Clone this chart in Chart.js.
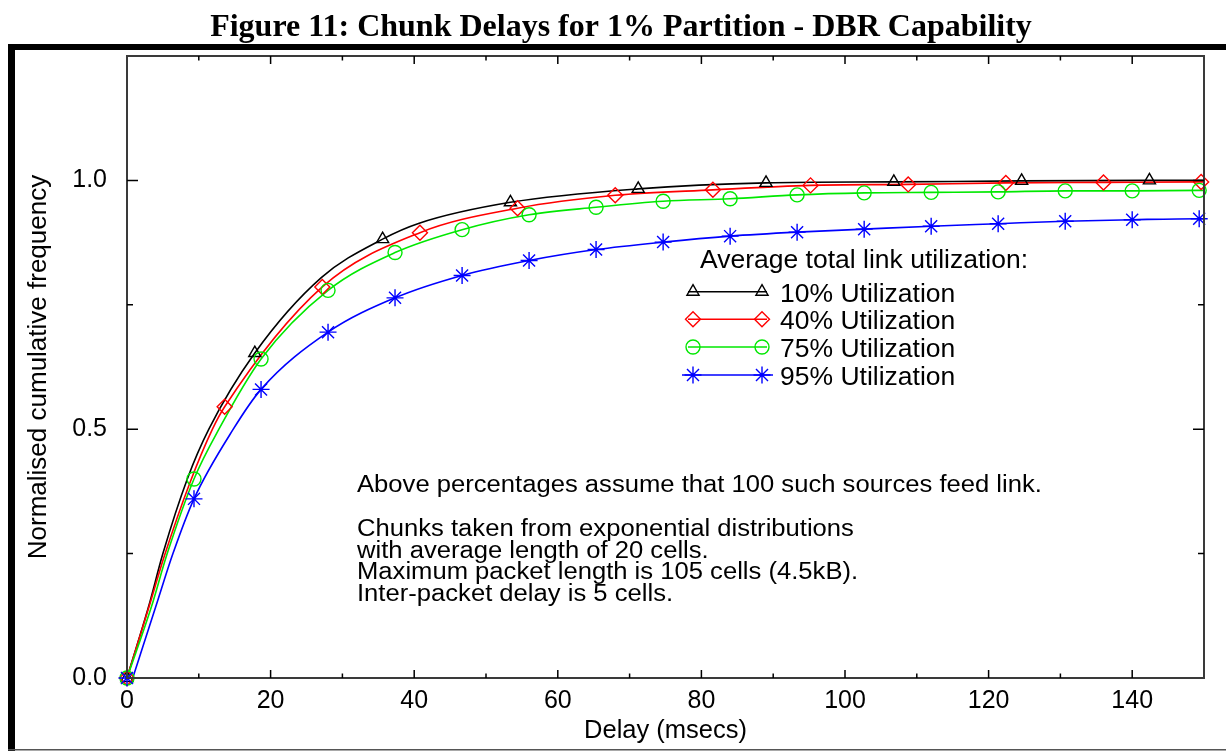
<!DOCTYPE html>
<html>
<head>
<meta charset="utf-8">
<script src="https://cdn.jsdelivr.net/npm/chart.js@4"></script>
<style>
  html, body { margin: 0; padding: 0; background: #fff; }
  #wrap { position: relative; width: 1226px; height: 751px; }
</style>
</head>
<body>
<div id="wrap"><canvas id="c" width="1226" height="751"></canvas></div>
<script>
// ---------------- data ----------------
const chartTitle = 'Figure 11: Chunk Delays for 1% Partition - DBR Capability';
const xAxisTitle = 'Delay (msecs)';
const yAxisTitle = 'Normalised cumulative frequency';
const seriesNames = ['10% Utilization', '40% Utilization', '75% Utilization', '95% Utilization'];
const legendHeading = 'Average total link utilization:';
const noteLines = [
  'Above percentages assume that 100 such sources feed link.',
  '',
  'Chunks taken from exponential distributions',
  'with average length of 20 cells.',
  'Maximum packet length is 105 cells (4.5kB).',
  'Inter-packet delay is 5 cells.'
];

const xTickLabels = [0, 20, 40, 60, 80, 100, 120, 140];
const xMinorTicks = [10, 30, 50, 70, 90, 110, 130];
const yTickLabels = [0, 0.5, 1.0];
const yMinorTicks = [0.25, 0.75];

// 10% utilization (black, triangles)
const blackLineX = [0, 3.0, 5.0, 8.4, 11.4, 17.8, 27.1, 35.6, 40.7, 53.4, 71.2, 89.0, 106.8, 124.6, 142.4, 150];
const blackLineY = [0, 0.143, 0.25, 0.40, 0.50, 0.653, 0.805, 0.882, 0.914, 0.956, 0.983, 0.995, 0.997, 0.999, 1.0, 1.0];
const blackMarkX = [0, 17.8, 35.6, 53.4, 71.2, 89.0, 106.8, 124.6, 142.4];
const blackMarkY = [0, 0.653, 0.882, 0.956, 0.983, 0.995, 0.997, 0.999, 1.0];

// 40% utilization (red, diamonds)
const redLineX = [0, 3.0, 5.2, 8.7, 11.9, 13.6, 27.2, 40.8, 54.4, 68.0, 81.6, 95.2, 108.8, 122.4, 136.0, 149.6, 150];
const redLineY = [0, 0.14, 0.245, 0.39, 0.50, 0.545, 0.786, 0.895, 0.944, 0.970, 0.981, 0.990, 0.992, 0.995, 0.996, 0.997, 0.997];
const redMarkX = [0, 13.6, 27.2, 40.8, 54.4, 68.0, 81.6, 95.2, 108.8, 122.4, 136.0, 149.6];
const redMarkY = [0, 0.545, 0.786, 0.895, 0.944, 0.970, 0.981, 0.990, 0.992, 0.995, 0.996, 0.997];

// 75% utilization (green, circles)
const greenLineX = [0, 3.4, 5.6, 9.33, 12.8, 18.67, 28, 37.33, 46.67, 56, 65.33, 74.67, 84, 93.33, 102.67, 112, 121.33, 130.67, 140, 149.33, 150];
const greenLineY = [0, 0.143, 0.25, 0.40, 0.50, 0.641, 0.779, 0.855, 0.901, 0.931, 0.946, 0.958, 0.963, 0.971, 0.975, 0.976, 0.977, 0.979, 0.979, 0.980, 0.980];
const greenMarkX = [0, 9.33, 18.67, 28, 37.33, 46.67, 56, 65.33, 74.67, 84, 93.33, 102.67, 112, 121.33, 130.67, 140, 149.33];
const greenMarkY = [0, 0.40, 0.641, 0.779, 0.855, 0.901, 0.931, 0.946, 0.958, 0.963, 0.971, 0.975, 0.976, 0.977, 0.979, 0.979, 0.980];

// 95% utilization (blue, stars)
const blueLineX = [0.8, 4.0, 6.4, 9.33, 14.8, 18.67, 28, 37.33, 46.67, 56, 65.33, 74.67, 84, 93.33, 102.67, 112, 121.33, 130.67, 140, 149.33, 150];
const blueLineY = [0, 0.143, 0.25, 0.36, 0.50, 0.580, 0.695, 0.764, 0.809, 0.839, 0.861, 0.876, 0.888, 0.896, 0.902, 0.908, 0.913, 0.918, 0.921, 0.923, 0.923];
const blueMarkX = [0, 9.33, 18.67, 28, 37.33, 46.67, 56, 65.33, 74.67, 84, 93.33, 102.67, 112, 121.33, 130.67, 140, 149.33];
const blueMarkY = [0, 0.36, 0.580, 0.695, 0.764, 0.809, 0.839, 0.861, 0.876, 0.888, 0.896, 0.902, 0.908, 0.913, 0.918, 0.921, 0.923];

// ---------------- styling ----------------
const colors = ['#000000', '#ff0000', '#00e800', '#0000ff'];
const styles = ['triangle', 'rectRot', 'circle', 'star'];
const radii = [7, 7.5, 7, 8.5];
const SANS = '"Liberation Sans", Arial, sans-serif';

function pts(xs, ys) { return xs.map((x, i) => ({ x: x, y: ys[i] })); }

const lineSets = [[blackLineX, blackLineY], [redLineX, redLineY], [greenLineX, greenLineY], [blueLineX, blueLineY]];
const markSets = [[blackMarkX, blackMarkY], [redMarkX, redMarkY], [greenMarkX, greenMarkY], [blueMarkX, blueMarkY]];

const datasets = [];
lineSets.forEach((s, i) => {
  datasets.push({
    label: seriesNames[i] + ' line',
    data: pts(s[0], s[1]),
    borderColor: colors[i],
    borderWidth: 1.6,
    pointRadius: 0,
    fill: false,
    cubicInterpolationMode: 'monotone',
    order: 10 - i
  });
});
markSets.forEach((s, i) => {
  datasets.push({
    label: seriesNames[i],
    data: pts(s[0], s[1]),
    showLine: false,
    pointStyle: styles[i],
    pointRadius: radii[i],
    pointBorderColor: colors[i],
    pointBackgroundColor: 'rgba(0,0,0,0)',
    pointBorderWidth: 1.4,
    clip: false,
    order: 5 - i
  });
});

// ---------------- decoration plugin ----------------
const decor = {
  id: 'decor',
  beforeDraw(chart) {
    const c = chart.ctx;
    c.save();
    c.fillStyle = '#fff';
    c.fillRect(0, 0, chart.width, chart.height);
    c.restore();
  },
  afterDraw(chart) {
    const c = chart.ctx;
    const a = chart.chartArea;
    const xs = chart.scales.x, ys = chart.scales.y;
    c.save();
    // outer frame
    c.fillStyle = '#000';
    c.fillRect(8, 44, 1218, 6);
    c.fillRect(8, 44, 7, 707);
    c.fillStyle = '#555';
    c.fillRect(8, 749, 1218, 1.5);

    // title
    c.fillStyle = '#000';
    c.font = 'bold 32px "Liberation Serif", "Times New Roman", serif';
    c.textAlign = 'center';
    c.textBaseline = 'alphabetic';
    c.fillText(chartTitle, 621, 36);

    // plot border
    c.strokeStyle = '#3a3a3a';
    c.lineWidth = 2;
    c.strokeRect(a.left, a.top, a.right - a.left, a.bottom - a.top);

    // inward ticks
    c.strokeStyle = '#000';
    c.lineWidth = 1.5;
    c.beginPath();
    const xt = (v, len) => {
      const p = xs.getPixelForValue(v);
      c.moveTo(p, a.bottom); c.lineTo(p, a.bottom - len);
      c.moveTo(p, a.top); c.lineTo(p, a.top + len);
    };
    const yt = (v, len) => {
      const p = ys.getPixelForValue(v);
      c.moveTo(a.left, p); c.lineTo(a.left + len, p);
      c.moveTo(a.right, p); c.lineTo(a.right - len, p);
    };
    xTickLabels.forEach(v => { if (v > 0) xt(v, 8); });
    xMinorTicks.forEach(v => xt(v, 4.5));
    yTickLabels.forEach(v => { if (v > 0) yt(v, 11); });
    yMinorTicks.forEach(v => yt(v, 6));
    c.stroke();

    // legend
    c.font = '25px ' + SANS;
    c.textAlign = 'left';
    c.fillStyle = '#000';
    c.save();
    c.translate(700, 268); c.scale(1.06, 1);
    c.fillText(legendHeading, 0, 0);
    c.restore();
    const rowY = [291.7, 319.3, 347, 375];
    seriesNames.forEach((name, i) => {
      const y = rowY[i];
      c.strokeStyle = colors[i];
      c.lineWidth = 1.6;
      c.beginPath();
      c.moveTo(i === 3 ? 682 : 688, y);
      c.lineTo(i === 3 ? 773 : 767, y);
      c.stroke();
      const opts = { pointStyle: styles[i], radius: radii[i], borderWidth: 1.4 };
      c.strokeStyle = colors[i];
      c.fillStyle = 'rgba(0,0,0,0)';
      c.lineWidth = 1.4;
      Chart.helpers.drawPoint(c, opts, 693, y);
      Chart.helpers.drawPoint(c, opts, 762, y);
      c.fillStyle = '#000';
      c.save();
      c.translate(780, y + 10); c.scale(1.06, 1);
      c.fillText(name, 0, 0);
      c.restore();
    });

    // notes
    c.font = '23.5px ' + SANS;
    c.fillStyle = '#000';
    const noteY = [491.5, 0, 536, 557.5, 579, 600.5];
    noteLines.forEach((t, i) => {
      if (!t) return;
      c.save();
      c.translate(357, noteY[i]); c.scale(1.09, 1);
      c.fillText(t, 0, 0);
      c.restore();
    });
    c.restore();
  }
};

const tickFont = { family: SANS, size: 25 };

new Chart(document.getElementById('c'), {
  type: 'line',
  data: { datasets: datasets },
  plugins: [decor],
  options: {
    responsive: false,
    animation: false,
    events: [],
    layout: { padding: { top: 56, right: 22, bottom: 0, left: 0 } },
    plugins: { legend: { display: false }, tooltip: { enabled: false }, title: { display: false } },
    scales: {
      x: {
        type: 'linear', min: 0, max: 150,
        afterFit(s) { s.height = 73; },
        afterBuildTicks(s) { s.ticks = xTickLabels.map(v => ({ value: v })); },
        ticks: { font: tickFont, color: '#000', padding: 8, maxRotation: 0, autoSkip: false,
                 callback: v => String(v) },
        grid: { display: false, drawTicks: false },
        border: { display: false },
        title: { display: true, text: xAxisTitle, font: { family: SANS, size: 25.5 }, color: '#000', padding: { top: 0, bottom: 5 } }
      },
      y: {
        type: 'linear', min: 0, max: 1.25,
        afterFit(s) { s.width = 127; },
        afterBuildTicks(s) { s.ticks = yTickLabels.map(v => ({ value: v })); },
        ticks: { font: tickFont, color: '#000', padding: 20, autoSkip: false,
                 callback: v => Number(v).toFixed(1) },
        grid: { display: false, drawTicks: false },
        border: { display: false },
        title: { display: true, text: yAxisTitle, font: { family: SANS, size: 26 }, color: '#000', padding: { top: 23, bottom: 0 } }
      }
    }
  }
});
</script>
</body>
</html>
